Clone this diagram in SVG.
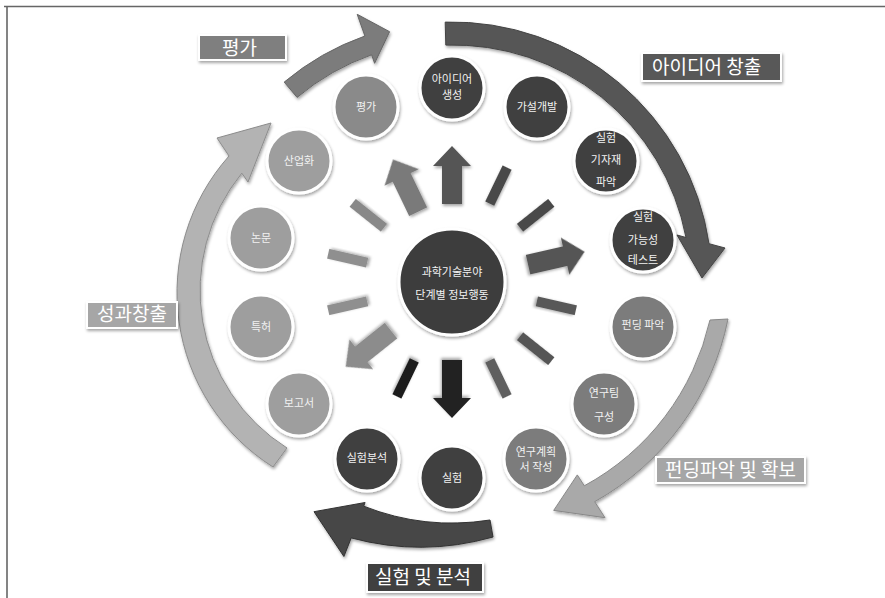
<svg xmlns="http://www.w3.org/2000/svg" width="885" height="598" viewBox="0 0 885 598">
<defs>
<filter id="sh" x="-30%" y="-30%" width="160%" height="160%">
<feDropShadow dx="1" dy="2" stdDeviation="1.5" flood-color="#000" flood-opacity="0.35"/>
</filter>
<style>
.node circle{stroke:#fff;stroke-width:3;filter:url(#sh)}
.dk{fill:#404040}
.md{fill:#7b7b7b}
.lt{fill:#9e9e9e}
.pv{fill:#8a8a8a}
.node text{font-family:"Noto Sans CJK KR","Noto Sans",sans-serif;font-size:11px;fill:#f2f2f2;text-anchor:middle}
.lab rect{stroke:#fff;stroke-width:2;filter:url(#sh)}
.lab text{font-family:"Noto Sans CJK KR","Noto Sans",sans-serif;font-size:19px;fill:#fff}
.big{filter:url(#sh);stroke-width:1}
.sp{filter:url(#sh)}
</style>
<path id="ar" d="M-10,-78 L-10,-116 L-19,-116 L0,-136 L19,-116 L10,-116 L10,-78 Z"/>
<rect id="br" x="-5" y="-127" width="10" height="40"/>
</defs>
<rect width="885" height="598" fill="#fff"/>
<path d="M4,6.5 H885 M7,6 V598" fill="none" stroke="#666" stroke-width="1.6"/>

<g id="connectors">
<path class="big" fill="#7b7b7b" stroke="#666" d="M284.2,82.1 A261,261 0 0 1 364.9,36 L357.2,14.3 L389.6,31.7 L374.6,63.3 L371.6,54.8 A241,241 0 0 0 297.1,97.4 Z"/>
<path class="big" fill="#565656" stroke="#444" d="M445.2,22.1 A260,260 0 0 1 709,243.7 L725,248 L702,278 L677,235 L686,237.5 A237,237 0 0 0 445.8,45.1 Z"/>
<path class="big" fill="#a9a9a9" stroke="#888" d="M728,319 A270,270 0 0 1 594.7,501.7 L605,517.7 L553.7,510.4 L577.3,474.9 L584.3,485.8 A252,252 0 0 0 710,320 Z"/>
<path class="big" fill="#474747" stroke="#333" d="M490,520 A241,241 0 0 1 363.7,506.2 L365.1,502.5 L314,511.7 L343.9,556.5 L351.2,537.9 A266,266 0 0 0 493,537 Z"/>
<path class="big" fill="#b3b3b3" stroke="#8c8c8c" d="M287,448 A186,186 0 0 1 241.8,173.2 L248,182 L271,123 L217,138 L229,156 A206,206 0 0 0 273,467 Z"/>
<g id="spokes" transform="translate(452,282)">
<use href="#ar" class="sp" fill="#555" transform="rotate(0)"/>
<use href="#br" class="sp" fill="#4a4a4a" transform="rotate(25.714)"/>
<use href="#br" class="sp" fill="#4a4a4a" transform="rotate(51.43)"/>
<use href="#ar" class="sp" fill="#555" transform="rotate(77.14)"/>
<use href="#br" class="sp" fill="#595959" transform="rotate(102.86)"/>
<use href="#br" class="sp" fill="#555" transform="rotate(128.57)"/>
<use href="#br" class="sp" fill="#5f5f5f" transform="rotate(154.29)"/>
<use href="#ar" class="sp" fill="#222" transform="rotate(180)"/>
<use href="#br" class="sp" fill="#1f1f1f" transform="rotate(205.71)"/>
<use href="#ar" class="sp" fill="#8c8c8c" transform="rotate(231.43)"/>
<use href="#br" class="sp" fill="#8f8f8f" transform="rotate(257.14)"/>
<use href="#br" class="sp" fill="#8f8f8f" transform="rotate(282.86)"/>
<use href="#br" class="sp" fill="#888" transform="rotate(308.57)"/>
<use href="#ar" class="sp" fill="#7a7a7a" transform="rotate(334.29)"/>
</g>
</g>

<g id="center" class="node"><circle cx="452" cy="282" r="53" fill="#3d3d3d"/><text x="452" y="276">과학기술분야</text><text x="452" y="299">단계별 정보행동</text></g>

<g id="n-idea" class="node"><circle class="dk" cx="452" cy="88" r="32"/><text x="452" y="83">아이디어</text><text x="452" y="99">생성</text></g>
<g id="n-hyp" class="node"><circle class="dk" cx="537" cy="107" r="32"/><text x="537" y="111">가설개발</text></g>
<g id="n-equip" class="node"><circle class="dk" cx="606" cy="161" r="32"/><text x="606" y="142">실험</text><text x="606" y="164">기자재</text><text x="606" y="186">파악</text></g>
<g id="n-feas" class="node"><circle class="dk" cx="643" cy="240" r="32"/><text x="643" y="221">실험</text><text x="643" y="244">가능성</text><text x="643" y="264">테스트</text></g>
<g id="n-fund" class="node"><circle class="md" cx="643" cy="327" r="32"/><text x="643" y="329">펀딩 파악</text></g>
<g id="n-team" class="node"><circle class="md" cx="604" cy="404" r="32"/><text x="604" y="397">연구팀</text><text x="604" y="421">구성</text></g>
<g id="n-plan" class="node"><circle class="md" cx="536" cy="459" r="32"/><text x="536" y="456">연구계획</text><text x="536" y="471">서 작성</text></g>
<g id="n-exp" class="node"><circle class="dk" cx="452" cy="478" r="32"/><text x="452" y="482">실험</text></g>
<g id="n-anal" class="node"><circle class="dk" cx="367" cy="459" r="32"/><text x="367" y="462">실험분석</text></g>
<g id="n-report" class="node"><circle class="lt" cx="299" cy="404" r="32"/><text x="299" y="407">보고서</text></g>
<g id="n-patent" class="node"><circle class="lt" cx="261" cy="327" r="32"/><text x="261" y="331">특허</text></g>
<g id="n-paper" class="node"><circle class="lt" cx="261" cy="238" r="32"/><text x="261" y="242">논문</text></g>
<g id="n-ind" class="node"><circle class="lt" cx="299" cy="161" r="32"/><text x="299" y="165">산업화</text></g>
<g id="n-eval" class="node"><circle class="pv" cx="366" cy="107" r="32"/><text x="366" y="111">평가</text></g>

<g id="l-eval" class="lab"><rect x="199" y="35" width="87" height="25" fill="#7f7f7f"/><text x="222" y="55">평가</text></g>
<g id="l-idea" class="lab"><rect x="642" y="53" width="139" height="28" fill="#595959"/><text x="652" y="74">아이디어 창출</text></g>
<g id="l-fund" class="lab"><rect x="656" y="457" width="149" height="26" fill="#a6a6a6"/><text x="665" y="477">펀딩파악 및 확보</text></g>
<g id="l-exp" class="lab"><rect x="367" y="563" width="116" height="29" fill="#404040"/><text x="375" y="584">실험 및 분석</text></g>
<g id="l-out" class="lab"><rect x="87" y="302" width="90" height="26" fill="#a6a6a6"/><text x="97" y="321">성과창출</text></g>
</svg>
